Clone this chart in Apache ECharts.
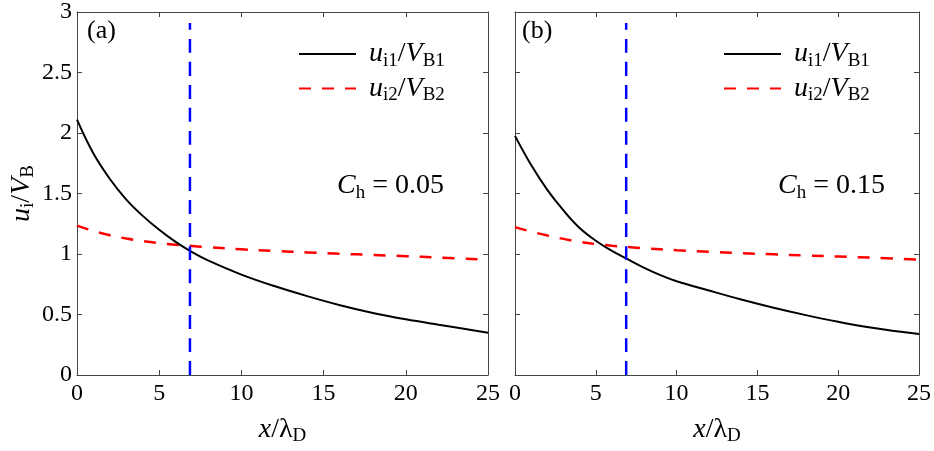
<!DOCTYPE html>
<html>
<head>
<meta charset="utf-8">
<script src="https://cdn.jsdelivr.net/npm/echarts@6/dist/echarts.min.js"></script>
<style>html,body{margin:0;padding:0;background:#fff;}#c{width:934px;height:451px;}</style>
</head>
<body>
<div id="c"></div>
<script>
// ---- data ----
const xTicks = [0, 5, 10, 15, 20, 25];
const yTicks = [0, 0.5, 1, 1.5, 2, 2.5, 3];

// panel (a), C_h = 0.05
const aBlackX = [0, 1, 2, 3, 4, 5, 6, 7, 8, 10, 12, 14, 16, 18, 20, 22, 25];
const aBlackY = [2.11, 1.83, 1.62, 1.45, 1.315, 1.20, 1.10, 1.015, 0.945, 0.83, 0.735, 0.652, 0.577, 0.513, 0.46, 0.415, 0.35];
const aRedX = [0, 1, 2, 3, 4, 5, 6, 7, 8, 10, 12, 14, 16, 18, 20, 22, 25];
const aRedY = [1.235, 1.19, 1.155, 1.128, 1.107, 1.09, 1.077, 1.066, 1.056, 1.039, 1.025, 1.013, 1.002, 0.992, 0.982, 0.971, 0.953];
const aSepX = [6.87, 6.87];
const aSepY = [0, 2.91];

// panel (b), C_h = 0.15
const bBlackX = [0, 1, 2, 3, 4, 5, 6, 7, 8, 9, 10, 12, 14, 16, 18, 20, 22, 25];
const bBlackY = [1.976, 1.735, 1.53, 1.36, 1.215, 1.11, 1.025, 0.955, 0.885, 0.825, 0.775, 0.698, 0.624, 0.556, 0.495, 0.44, 0.393, 0.338];
const bRedX = [0, 1, 2, 3, 4, 5, 6, 7, 8, 10, 12, 14, 16, 18, 20, 22, 25];
const bRedY = [1.222, 1.185, 1.153, 1.125, 1.10, 1.082, 1.068, 1.057, 1.047, 1.031, 1.018, 1.007, 0.997, 0.988, 0.979, 0.97, 0.953];
const bSepX = [6.88, 6.88];
const bSepY = [0, 2.91];

const panelLabels = ['(a)', '(b)'];
const chValues = ['0.05', '0.15'];
const seriesNames = ['ui1/VB1', 'ui2/VB2'];

// ---- chart ----
const zip = (xs, ys) => xs.map((x, i) => [x, ys[i]]);
const FONT = 'Liberation Serif';
const AX = '#444';
const rich = {
  it: {fontFamily: FONT, fontStyle: 'italic', fontSize: 28, color: '#000'},
  it0: {fontFamily: FONT, fontStyle: 'italic', fontSize: 28, color: '#000', padding: [0, 0, 0, 8]},
  rm: {fontFamily: FONT, fontSize: 28, color: '#000'},
  sub: {fontFamily: FONT, fontSize: 19, color: '#000', padding: [14, 0, 0, 0]}
};
const legendFmt = {
  'ui1/VB1': '{it0|u}{sub|i1}{rm|/}{it|V}{sub|B1}',
  'ui2/VB2': '{it0|u}{sub|i2}{rm|/}{it|V}{sub|B2}'
};
const grids = [
  {left: 77, top: 12, width: 411, height: 365},
  {left: 515, top: 12, width: 411, height: 365}
];
function xAx(g, pos) {
  const bottom = pos === 'bottom';
  return {
    gridIndex: g, type: 'value', position: pos, min: xTicks[0], max: xTicks[xTicks.length - 1], interval: 5,
    axisLine: {show: true, onZero: false, lineStyle: {color: AX, width: 1}},
    axisTick: {show: true, inside: true, length: 5, lineStyle: {color: AX}},
    axisLabel: {show: bottom, margin: 7, fontFamily: FONT, fontSize: 24, color: '#000'},
    splitLine: {show: false},
    name: bottom ? '{it|x}{rm|/}{rm|λ}{sub|D}' : '',
    nameLocation: 'middle', nameGap: 38,
    nameTextStyle: {rich: rich}
  };
}
function yAx(g, pos) {
  const lab = g === 0 && pos === 'left';
  return {
    gridIndex: g, type: 'value', position: pos, min: yTicks[0], max: yTicks[yTicks.length - 1], interval: 0.5,
    axisLine: {show: true, onZero: false, lineStyle: {color: AX, width: 1}},
    axisTick: {show: true, inside: true, length: 5, lineStyle: {color: AX}},
    axisLabel: {show: lab, margin: 5, fontFamily: FONT, fontSize: 24, color: '#000'},
    splitLine: {show: false},
    name: lab ? '{it|u}{sub|i}{rm|/}{it|V}{sub|B}' : '',
    nameLocation: 'middle', nameGap: 39,
    nameTextStyle: {rich: rich}
  };
}
function line(name, xi, yi, data, color, width, type, z) {
  return {
    name: name, type: 'line', xAxisIndex: xi, yAxisIndex: yi, data: data,
    smooth: 0.4, symbol: 'none', silent: true, z: z || 2,
    lineStyle: {color: color, width: width, type: type}, itemStyle: {color: color}
  };
}
const legendBase = (left) => ({
  orient: 'vertical', left: left, top: 35, itemWidth: 57, itemHeight: 14, itemGap: 4,
  data: seriesNames, selectedMode: false,
  itemStyle: {opacity: 0},
  formatter: (n) => legendFmt[n],
  textStyle: {rich: rich}
});
const chText = (x, v) => ({
  type: 'text', left: x, top: 172,
  style: {text: '{it|C}{sub|h}{rm| = ' + v + '}', rich: rich}
});
const option = {
  animation: false,
  backgroundColor: '#fff',
  grid: grids,
  xAxis: [xAx(0, 'bottom'), xAx(0, 'top'), xAx(1, 'bottom'), xAx(1, 'top')],
  yAxis: [yAx(0, 'left'), yAx(0, 'right'), yAx(1, 'left'), yAx(1, 'right')],
  legend: [legendBase(293), legendBase(718)],
  series: [
    line(seriesNames[0], 0, 0, zip(aBlackX, aBlackY), '#000', 2, 'solid', 3),
    line(seriesNames[1], 0, 0, zip(aRedX, aRedY), '#ff0000', 2.5, [12, 11], 2),
    line('sepA', 0, 0, zip(aSepX, aSepY), '#0000ff', 2.5, [14, 9], 4),
    line(seriesNames[0], 2, 2, zip(bBlackX, bBlackY), '#000', 2, 'solid', 3),
    line(seriesNames[1], 2, 2, zip(bRedX, bRedY), '#ff0000', 2.5, [12, 11], 2),
    line('sepB', 2, 2, zip(bSepX, bSepY), '#0000ff', 2.5, [14, 9], 4)
  ],
  graphic: [
    {type: 'text', left: 87, top: 18, style: {text: panelLabels[0], font: '26px "' + FONT + '"', fill: '#000'}},
    {type: 'text', left: 522, top: 18, style: {text: panelLabels[1], font: '26px "' + FONT + '"', fill: '#000'}},
    chText(337, chValues[0]),
    chText(778, chValues[1])
  ]
};
const chart = echarts.init(document.getElementById('c'), null, {renderer: 'canvas'});
chart.setOption(option);
</script>
</body>
</html>
